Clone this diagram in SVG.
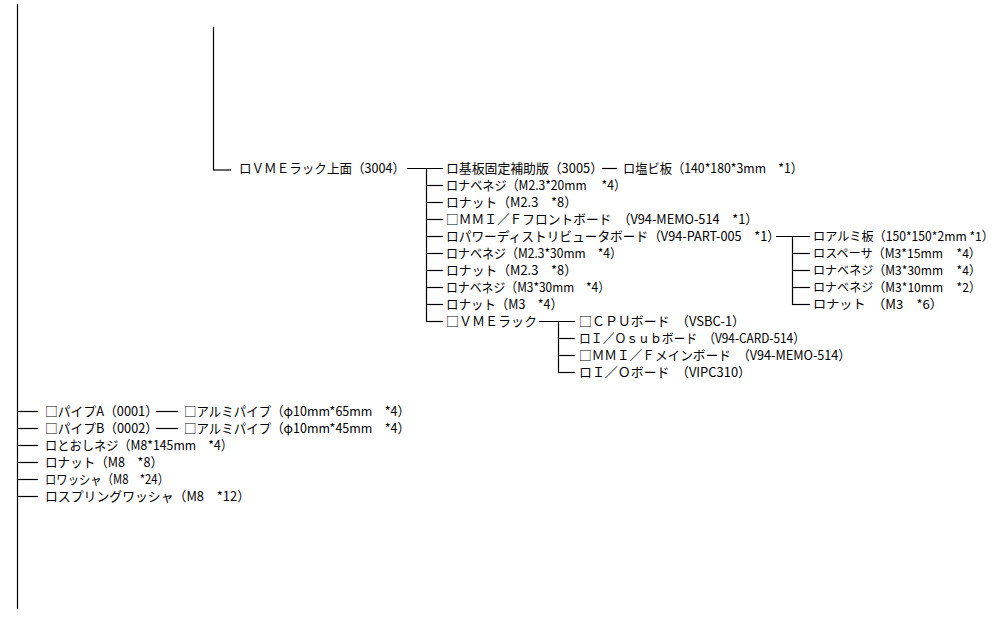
<svg xmlns="http://www.w3.org/2000/svg" width="1001" height="617" viewBox="0 0 1001 617">
<style>
text{font-family:"Noto Sans CJK JP","Noto Sans CJK SC",sans-serif;font-size:13px;fill:#000}
text.r{font-size:12.5px}
.c line{stroke:#000;stroke-width:1.2;fill:none}
</style>
<rect width="1001" height="617" fill="#fff"/>
<g class="c" id="connectors">
<line x1="17.5" y1="4" x2="17.5" y2="609"/>
<line x1="213.5" y1="27" x2="213.5" y2="170"/>
<line x1="213" y1="170" x2="231" y2="170"/>
<line x1="407" y1="168.5" x2="443" y2="168.5"/>
<line x1="426.5" y1="168" x2="426.5" y2="321.5"/>
<line x1="426" y1="185.5" x2="443" y2="185.5"/>
<line x1="426" y1="202.5" x2="443" y2="202.5"/>
<line x1="426" y1="219.5" x2="443" y2="219.5"/>
<line x1="426" y1="236.5" x2="443" y2="236.5"/>
<line x1="426" y1="253.5" x2="443" y2="253.5"/>
<line x1="426" y1="270.5" x2="443" y2="270.5"/>
<line x1="426" y1="287.5" x2="443" y2="287.5"/>
<line x1="426" y1="304.5" x2="443" y2="304.5"/>
<line x1="426" y1="321.5" x2="443" y2="321.5"/>
<line x1="602" y1="168.5" x2="617" y2="168.5"/>
<line x1="776" y1="236.5" x2="810" y2="236.5"/>
<line x1="792.5" y1="236" x2="792.5" y2="304.5"/>
<line x1="792" y1="253.5" x2="810" y2="253.5"/>
<line x1="792" y1="270.5" x2="810" y2="270.5"/>
<line x1="792" y1="287.5" x2="810" y2="287.5"/>
<line x1="792" y1="304.5" x2="810" y2="304.5"/>
<line x1="539" y1="321.5" x2="575" y2="321.5"/>
<line x1="558.5" y1="321" x2="558.5" y2="372.5"/>
<line x1="558" y1="338.5" x2="575" y2="338.5"/>
<line x1="558" y1="355.5" x2="575" y2="355.5"/>
<line x1="558" y1="372.5" x2="575" y2="372.5"/>
<line x1="17" y1="411.5" x2="38" y2="411.5"/>
<line x1="17" y1="428.5" x2="38" y2="428.5"/>
<line x1="17" y1="445.5" x2="38" y2="445.5"/>
<line x1="17" y1="462.5" x2="38" y2="462.5"/>
<line x1="17" y1="479.5" x2="38" y2="479.5"/>
<line x1="17" y1="496.5" x2="38" y2="496.5"/>
<line x1="156" y1="411.5" x2="178" y2="411.5"/>
<line x1="156" y1="428.5" x2="178" y2="428.5"/>
</g>
<g id="n-vme-top"><text x="239" y="173" textLength="166" lengthAdjust="spacingAndGlyphs">ロＶＭＥラック上面（3004）</text></g>
<g id="n-kiban"><text x="446" y="173" textLength="157" lengthAdjust="spacingAndGlyphs">ロ基板固定補助版（3005）</text></g>
<g id="n-enbi"><text x="623" y="173" textLength="180" lengthAdjust="spacingAndGlyphs">ロ塩ビ板（140*180*3mm　*1）</text></g>
<g id="n-nabe1"><text x="446" y="190" textLength="180" lengthAdjust="spacingAndGlyphs">ロナベネジ（M2.3*20mm　 *4）</text></g>
<g id="n-nut1"><text x="446" y="207" textLength="131" lengthAdjust="spacingAndGlyphs">ロナット（M2.3　*8）</text></g>
<g id="n-mmi-front"><text x="446" y="224" textLength="312" lengthAdjust="spacingAndGlyphs">□ＭＭＩ／Ｆフロントボード　（V94-MEMO-514　*1）</text></g>
<g id="n-power"><text x="446" y="241" textLength="334" lengthAdjust="spacingAndGlyphs">ロパワーディストリビュータボード（V94-PART-005　*1）</text></g>
<g id="n-nabe2"><text x="446" y="258" textLength="176" lengthAdjust="spacingAndGlyphs">ロナベネジ（M2.3*30mm　*4）</text></g>
<g id="n-nut2"><text x="446" y="275" textLength="131" lengthAdjust="spacingAndGlyphs">ロナット（M2.3　*8）</text></g>
<g id="n-nabe3"><text x="446" y="292" textLength="164" lengthAdjust="spacingAndGlyphs">ロナベネジ（M3*30mm　*4）</text></g>
<g id="n-nut3"><text x="446" y="309" textLength="117" lengthAdjust="spacingAndGlyphs">ロナット（M3　*4）</text></g>
<g id="n-vme"><text x="446" y="326" textLength="91" lengthAdjust="spacingAndGlyphs">□ＶＭＥラック</text></g>
<g id="n-cpu"><text x="579" y="326" textLength="166" lengthAdjust="spacingAndGlyphs">□ＣＰＵボード　（VSBC-1）</text></g>
<g id="n-iosub"><text x="579" y="343" textLength="226" lengthAdjust="spacingAndGlyphs">ロＩ／Ｏｓｕｂボード　（V94-CARD-514）</text></g>
<g id="n-mmi-main"><text x="579" y="360" textLength="272" lengthAdjust="spacingAndGlyphs">□ＭＭＩ／Ｆメインボード　（V94-MEMO-514）</text></g>
<g id="n-io"><text x="579" y="377" textLength="172" lengthAdjust="spacingAndGlyphs">ロＩ／Ｏボード　（VIPC310）</text></g>
<g id="n-alumi"><text class="r" x="813" y="241" textLength="181" lengthAdjust="spacingAndGlyphs">ロアルミ板（150*150*2mm *1）</text></g>
<g id="n-spacer"><text class="r" x="813" y="258" textLength="168" lengthAdjust="spacingAndGlyphs">ロスペーサ（M3*15mm&#160;&#160;&#160;&#160;&#160;*4）</text></g>
<g id="n-nabe4"><text class="r" x="813" y="275" textLength="168" lengthAdjust="spacingAndGlyphs">ロナベネジ（M3*30mm&#160;&#160;&#160;&#160;&#160;*4）</text></g>
<g id="n-nabe5"><text class="r" x="813" y="292" textLength="168" lengthAdjust="spacingAndGlyphs">ロナベネジ（M3*10mm&#160;&#160;&#160;&#160;&#160;*2）</text></g>
<g id="n-nut4"><text class="r" x="813" y="309" textLength="130" lengthAdjust="spacingAndGlyphs">ロナット　（M3　*6）</text></g>
<g id="n-pipeA"><text x="45" y="416" textLength="113" lengthAdjust="spacingAndGlyphs">□パイプA（0001）</text></g>
<g id="n-alpipe1"><text x="184" y="416" textLength="226" lengthAdjust="spacingAndGlyphs">□アルミパイプ（φ10mm*65mm　*4）</text></g>
<g id="n-pipeB"><text x="45" y="433" textLength="113" lengthAdjust="spacingAndGlyphs">□パイプB（0002）</text></g>
<g id="n-alpipe2"><text x="184" y="433" textLength="226" lengthAdjust="spacingAndGlyphs">□アルミパイプ（φ10mm*45mm　*4）</text></g>
<g id="n-toshi"><text x="45" y="450" textLength="188" lengthAdjust="spacingAndGlyphs">ロとおしネジ（M8*145mm　*4）</text></g>
<g id="n-nut5"><text x="45" y="467" textLength="118" lengthAdjust="spacingAndGlyphs">ロナット（M8　*8）</text></g>
<g id="n-washer"><text x="45" y="484" textLength="124" lengthAdjust="spacingAndGlyphs">ロワッシャ（M8　*24）</text></g>
<g id="n-spring"><text x="45" y="501" textLength="205" lengthAdjust="spacingAndGlyphs">ロスプリングワッシャ（M8　*12）</text></g>
</svg>
